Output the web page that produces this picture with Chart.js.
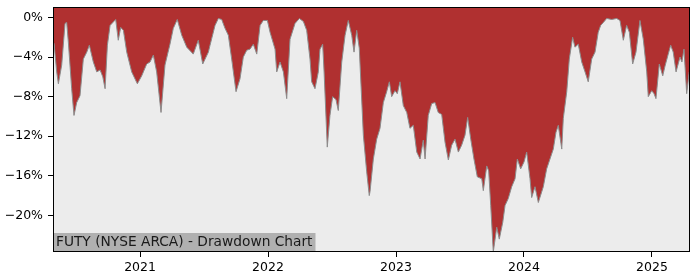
<!DOCTYPE html>
<html>
<head>
<meta charset="utf-8">
<script src="https://cdn.jsdelivr.net/npm/chart.js@4/dist/chart.umd.min.js"></script>
<style>
  html, body { margin: 0; padding: 0; background: #fff; }
  #wrap { width: 700px; height: 280px; }
</style>
</head>
<body>
<div id="wrap"><canvas id="ddChart" width="700" height="280"></canvas></div>
<script>
// drawdown series, x in decimal years, y in percent
const years = [
  2020.32, 2020.328, 2020.349, 2020.362, 2020.388, 2020.414, 2020.427, 2020.440, 2020.466, 2020.484,
  2020.505, 2020.531, 2020.557, 2020.584, 2020.604, 2020.635, 2020.662, 2020.688, 2020.709, 2020.727,
  2020.745, 2020.766, 2020.810, 2020.830, 2020.849, 2020.870, 2020.896, 2020.935, 2020.979, 2021.013,
  2021.052, 2021.078, 2021.104, 2021.130, 2021.164, 2021.195, 2021.234, 2021.260, 2021.291, 2021.326,
  2021.365, 2021.416, 2021.455, 2021.490, 2021.534, 2021.547, 2021.586, 2021.612, 2021.638, 2021.664,
  2021.690, 2021.716, 2021.750, 2021.781, 2021.807, 2021.834, 2021.859, 2021.885, 2021.912, 2021.938,
  2021.963, 2021.995, 2022.016, 2022.055, 2022.068, 2022.094, 2022.120, 2022.146, 2022.172, 2022.211,
  2022.245, 2022.276, 2022.302, 2022.328, 2022.341, 2022.367, 2022.393, 2022.406, 2022.427, 2022.438,
  2022.463, 2022.484, 2022.505, 2022.531, 2022.549, 2022.576, 2022.602, 2022.627, 2022.654, 2022.672,
  2022.693, 2022.713, 2022.745, 2022.771, 2022.791, 2022.797, 2022.823, 2022.849, 2022.875, 2022.901,
  2022.927, 2022.948, 2022.966, 2022.992, 2023.010, 2023.031, 2023.057, 2023.084, 2023.109, 2023.135,
  2023.162, 2023.188, 2023.213, 2023.227, 2023.252, 2023.279, 2023.305, 2023.330, 2023.357, 2023.383,
  2023.409, 2023.435, 2023.461, 2023.487, 2023.513, 2023.539, 2023.560, 2023.584, 2023.609, 2023.635,
  2023.670, 2023.682, 2023.709, 2023.724, 2023.740, 2023.760, 2023.787, 2023.807, 2023.834, 2023.852,
  2023.877, 2023.904, 2023.930, 2023.948, 2023.974, 2024.000, 2024.021, 2024.047, 2024.060, 2024.086,
  2024.112, 2024.151, 2024.177, 2024.203, 2024.229, 2024.250, 2024.268, 2024.295, 2024.307, 2024.334,
  2024.354, 2024.380, 2024.398, 2024.424, 2024.451, 2024.477, 2024.502, 2024.529, 2024.555, 2024.580,
  2024.599, 2024.620, 2024.646, 2024.685, 2024.724, 2024.750, 2024.776, 2024.802, 2024.823, 2024.849,
  2024.875, 2024.906, 2024.932, 2024.959, 2024.971, 2024.998, 2025.016, 2025.031, 2025.057, 2025.084,
  2025.102, 2025.127, 2025.146, 2025.166, 2025.188, 2025.219, 2025.234, 2025.250, 2025.271, 2025.291
];
const drawdown = [
  -2.5, -2.6, -5.5, -6.7, -4.8, -0.6, -0.5, -2.5, -7.2, -9.9,
  -8.6, -7.9, -4.2, -3.5, -2.8, -4.5, -5.5, -5.3, -6.0, -7.2,
  -2.8, -0.8, -0.2, -2.3, -1.0, -1.3, -3.5, -5.5, -6.7, -5.9,
  -4.7, -4.5, -3.8, -5.5, -9.6, -4.8, -2.7, -1.1, -0.2, -1.8,
  -3.0, -3.7, -2.3, -4.7, -3.5, -2.8, -0.8, -0.1, -0.2, -1.1,
  -1.8, -4.2, -7.5, -6.2, -4.0, -3.3, -3.2, -2.7, -3.7, -0.8,
  -0.3, -0.3, -1.5, -3.2, -5.5, -4.5, -5.5, -8.2, -2.2, -0.6,
  -0.1, -0.4, -1.3, -4.2, -6.5, -7.2, -5.5, -3.2, -2.7, -5.5,
  -13.1, -9.9, -8.0, -8.3, -9.4, -4.5, -1.8, -0.3, -1.8, -3.5,
  -1.3, -3.1, -11.9, -15.6, -18.0, -17.6, -14.3, -12.3, -11.2, -8.6,
  -7.5, -6.5, -8.0, -7.4, -7.7, -6.5, -8.9, -9.6, -11.2, -10.9,
  -13.6, -14.3, -12.4, -14.3, -9.9, -8.7, -8.6, -9.6, -9.8, -12.6,
  -14.4, -12.9, -12.3, -13.6, -12.9, -11.9, -10.1, -12.3, -14.3, -16.1,
  -16.3, -17.5, -15.0, -15.5, -19.0, -23.7, -21.2, -22.4, -20.7, -19.0,
  -18.3, -17.1, -16.3, -14.3, -15.3, -14.6, -13.6, -16.3, -18.2, -17.1,
  -18.7, -17.1, -15.3, -14.3, -13.3, -11.6, -10.9, -13.3, -10.2, -7.5,
  -4.2, -2.0, -3.0, -2.7, -4.5, -5.5, -6.5, -4.2, -3.5, -1.5,
  -0.8, -0.5, -0.1, -0.2, -0.1, -0.3, -2.3, -0.8, -1.5, -4.7,
  -3.5, -0.3, -2.2, -5.5, -8.0, -7.4, -7.7, -8.2, -4.7, -5.9,
  -4.9, -3.7, -2.8, -3.5, -5.5, -4.0, -4.5, -3.2, -7.7, -5.5
];
const yTicks = [0, -4, -8, -12, -16, -20];
const xTicks = [2021, 2022, 2023, 2024, 2025];
const chartTitle = "FUTY (NYSE ARCA) - Drawdown Chart";

const FONT = "'DejaVu Sans', sans-serif";

const frame = {
  id: "frame",
  beforeDraw(chart) {
    const { ctx, chartArea: a } = chart;
    ctx.save();
    ctx.fillStyle = "#ececec";
    ctx.fillRect(a.left, a.top, a.right - a.left, a.bottom - a.top);
    ctx.restore();
  },
  afterDatasetsDraw(chart) {
    const { ctx, chartArea: a } = chart;
    ctx.save();
    ctx.font = "13.75px " + FONT;
    const w = ctx.measureText(chartTitle).width;
    ctx.fillStyle = "#b0b0b0";
    ctx.fillRect(a.left, a.bottom - 19, w + 6, 19);
    ctx.fillStyle = "#1a1a1a";
    ctx.textBaseline = "middle";
    ctx.fillText(chartTitle, a.left + 3, a.bottom - 9.5);
    ctx.strokeStyle = "#000";
    ctx.lineWidth = 1;
    ctx.strokeRect(a.left + 0.5, a.top + 0.5, a.right - a.left - 1, a.bottom - a.top - 1);
    ctx.restore();
  }
};

const points = years.map((x, i) => ({ x: x, y: drawdown[i] }));

new Chart(document.getElementById("ddChart"), {
  type: "line",
  data: {
    datasets: [{
      data: points,
      borderColor: "#8c8c8c",
      borderWidth: 1,
      backgroundColor: "#b03030",
      fill: "end",
      pointRadius: 0,
      tension: 0
    }]
  },
  options: {
    responsive: false,
    animation: false,
    layout: { padding: { top: 7, right: 10, left: 0, bottom: 0 } },
    plugins: { legend: { display: false }, tooltip: { enabled: false } },
    scales: {
      x: {
        type: "linear",
        min: 2020.32,
        max: 2025.297,
        afterBuildTicks(s) { s.ticks = xTicks.map(v => ({ value: v })); },
        afterFit(s) { s.height = 28; s.paddingLeft = 0; s.paddingRight = 0; },
        grid: { drawOnChartArea: false, drawTicks: true, tickLength: 5, tickColor: "#000" },
        border: { display: false },
        ticks: {
          color: "#000",
          font: { family: FONT, size: 12.5 },
          padding: 3,
          maxRotation: 0,
          callback: v => String(v)
        }
      },
      y: {
        min: -23.7,
        max: 1.06,
        afterBuildTicks(s) { s.ticks = yTicks.map(v => ({ value: v })); },
        afterFit(s) { s.width = 53; s.paddingTop = 0; s.paddingBottom = 0; },
        grid: { drawOnChartArea: false, drawTicks: true, tickLength: 5, tickColor: "#000" },
        border: { display: false },
        ticks: {
          color: "#000",
          font: { family: FONT, size: 12.5 },
          padding: 5,
          callback: v => (v < 0 ? "\u2212" + Math.abs(v) : String(v)) + "%"
        }
      }
    }
  },
  plugins: [frame]
});
</script>
</body>
</html>
